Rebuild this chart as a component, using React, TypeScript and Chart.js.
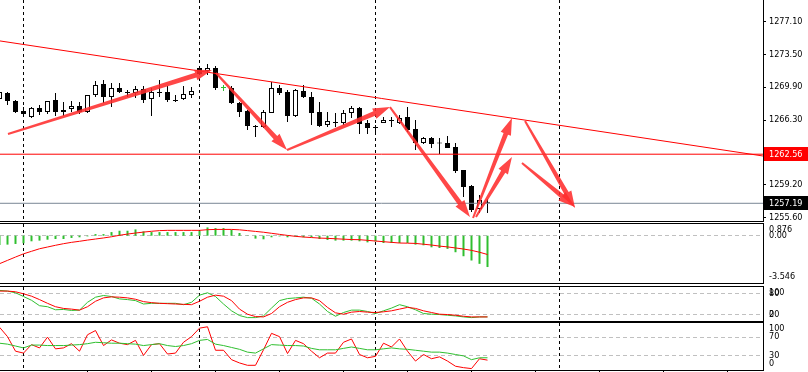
import React, { useEffect, useRef } from "react";
import { Chart, registerables } from "chart.js";

Chart.register(...registerables);

// ---------------- DATA ----------------
const FIRST_BAR = -1;

const opens = [
  1268.6, 1269.26, 1268.38, 1267.29, 1266.63, 1267.62, 1267.18, 1268.49, 1267.4, 1267.51,
  1267.83, 1267.18, 1269.04, 1270.24, 1268.82, 1269.8, 1269.37, 1269.26, 1269.69, 1268.6,
  1269.37, 1269.37, 1268.49, 1268.6, 1269.04, 1271.99, 1271.66, 1271.99, 1269.8, 1269.8,
  1268.16, 1267.29, 1265.65, 1265.54, 1267.07, 1269.8, 1269.37, 1266.74, 1269.47, 1268.82,
  1267.18, 1265.76, 1266.08, 1265.97, 1267.07, 1267.62, 1265.97, 1265.54, 1265.97, 1266.3,
  1265.97, 1266.63, 1265.32, 1263.79, 1264.33, 1263.84, 1263.79, 1263.35, 1260.83, 1259.08,
  1256.56, 1257.3,
];
const highs = [
  1269.58, 1269.37, 1268.49, 1267.72, 1267.72, 1267.94, 1268.38, 1269.26, 1268.27, 1268.38,
  1268.27, 1269.04, 1270.57, 1270.68, 1270.35, 1270.35, 1269.58, 1270.02, 1270.02, 1269.8,
  1270.68, 1270.02, 1269.04, 1270.02, 1269.91, 1272.21, 1272.43, 1272.21, 1270.13, 1270.02,
  1268.27, 1267.4, 1265.76, 1267.4, 1270.46, 1270.13, 1269.58, 1269.69, 1270.13, 1269.37,
  1268.27, 1267.18, 1267.07, 1267.4, 1267.83, 1267.72, 1266.3, 1265.76, 1266.63, 1266.63,
  1266.85, 1267.72, 1266.3, 1264.44, 1264.44, 1264.33, 1264.55, 1263.79, 1260.83, 1259.19,
  1258.1, 1257.66,
];
const lows = [
  1268.38, 1267.94, 1267.07, 1266.63, 1266.52, 1266.85, 1266.96, 1266.74, 1266.74, 1267.18,
  1266.96, 1267.07, 1268.82, 1268.16, 1267.72, 1269.26, 1268.82, 1268.71, 1268.16, 1266.74,
  1268.82, 1268.27, 1268.27, 1268.49, 1268.71, 1271.22, 1271.22, 1269.58, 1269.47, 1268.05,
  1266.63, 1265.21, 1264.44, 1265.43, 1267.07, 1269.04, 1266.08, 1266.63, 1268.71, 1265.76,
  1265.54, 1265.54, 1265.54, 1265.76, 1266.52, 1264.77, 1264.77, 1264.99, 1265.97, 1265.54,
  1265.86, 1264.99, 1263.02, 1263.68, 1263.24, 1262.58, 1263.24, 1260.5, 1257.88, 1256.24,
  1256.13, 1256.13,
];
const closes = [
  1269.37, 1268.38, 1267.18, 1266.96, 1267.62, 1267.18, 1268.38, 1267.18, 1267.18, 1267.83,
  1267.18, 1269.04, 1270.13, 1268.82, 1269.8, 1269.37, 1269.26, 1269.69, 1268.49, 1269.37,
  1269.26, 1268.49, 1268.38, 1269.15, 1269.47, 1271.33, 1271.99, 1269.8, 1269.8, 1268.16,
  1267.18, 1265.65, 1265.54, 1267.18, 1269.8, 1269.26, 1266.74, 1269.58, 1268.82, 1267.07,
  1265.65, 1266.19, 1265.97, 1267.07, 1267.62, 1265.86, 1265.43, 1265.43, 1266.3, 1266.19,
  1266.52, 1265.21, 1263.79, 1264.33, 1263.68, 1263.73, 1263.24, 1260.72, 1258.97, 1256.45,
  1257.55, 1257.19,
];

const macdHistogram = [
  -0.7, -0.67, -0.62, -0.57, -0.42, -0.37, -0.3, -0.25, -0.25, -0.17,
  -0.12, -0.05, 0.12, 0.12, 0.27, 0.37, 0.37, 0.47, 0.32, 0.27,
  0.27, 0.27, 0.27, 0.27, 0.27, 0.37, 0.62, 0.57, 0.57, 0.45,
  0.2, 0.02, -0.22, -0.27, -0.12, -0.05, -0.12, -0.07, -0.12, -0.12,
  -0.25, -0.32, -0.37, -0.37, -0.37, -0.42, -0.5, -0.42, -0.55, -0.55,
  -0.55, -0.55, -0.67, -0.72, -0.87, -0.92, -0.99, -1.24, -1.54, -1.86,
  -2.11, -2.35,
];
const macdSignal = [
  -2.1, -1.85, -1.6, -1.36, -1.17, -0.98, -0.85, -0.72, -0.6, -0.5,
  -0.42, -0.33, -0.25, -0.17, -0.08, 0.03, 0.12, 0.2, 0.27, 0.33,
  0.38, 0.4, 0.4, 0.4, 0.4, 0.4, 0.45, 0.47, 0.47, 0.47,
  0.44, 0.38, 0.32, 0.26, 0.18, 0.1, 0.02, -0.05, -0.1, -0.14,
  -0.18, -0.2, -0.23, -0.26, -0.29, -0.3, -0.35, -0.4, -0.45, -0.5,
  -0.55, -0.56, -0.58, -0.64, -0.7, -0.78, -0.84, -0.92, -1.0, -1.1,
  -1.24, -1.41,
];

const stochMain = [
  90, 88, 83, 72, 61, 45, 42, 33, 34, 31,
  32, 55, 70, 75, 72, 65, 63, 60, 50, 52,
  52, 52, 52, 48, 55, 76, 83, 72, 50, 30,
  16, 10, 10, 15, 38, 60, 66, 68, 70, 67,
  50, 28, 14, 25, 32, 32, 28, 22, 30, 38,
  48, 42, 33, 22, 20, 19, 17, 15, 12, 10,
  12, 12,
];
const stochSignal = [
  88, 88, 86, 80, 73, 63, 52, 42, 37, 35,
  32, 42, 58, 68, 71, 70, 68, 64, 57, 54,
  52, 51, 50, 49, 48, 58, 70, 76, 73, 60,
  35, 20, 13, 12, 22, 42, 55, 63, 68, 68,
  60, 40, 24, 20, 26, 28, 26, 25, 27, 30,
  35, 40, 37, 30, 25, 20, 19, 17, 14, 12,
  12, 12,
];

const rsiValues = [
  91, 71, 40, 36, 54, 47, 70, 45, 47, 56,
  40, 75, 84, 52, 64, 57, 54, 63, 31, 54,
  56, 34, 36, 59, 71, 89, 92, 42, 42, 22,
  15, 10, 10, 43, 78, 71, 35, 63, 56, 40,
  26, 36, 36, 59, 66, 33, 26, 29, 57, 49,
  66, 40, 19, 33, 24, 28, 19, 8, 5, 3,
  24, 21,
];
const rsiAverage = [
  57, 55, 51, 47, 53, 53, 52, 52, 52, 53,
  54, 56, 59, 58, 57, 57, 56, 55, 52, 54,
  56, 52, 50, 52, 56, 63, 65, 55, 52, 48,
  44, 38, 36, 45, 54, 53, 52, 52, 51, 46,
  43, 43, 43, 46, 49, 46, 43, 43, 45, 47,
  45, 44, 42, 40, 38, 38, 36, 33, 30, 22,
  26, 26,
];

const priceTicks = [1277.1, 1273.5, 1269.9, 1266.3, 1259.2, 1255.6];
const horizontalLevel = 1262.56;
const bidPrice = 1257.19;
const trendBars = [-1, 95];
const trendPrices = [1274.96, 1262.29];

const arrowStartBars = [0.06, 26.06, 34.94, 47.81, 58.19, 58.56, 64.69, 64.31];
const arrowStartPrices = [1264.77, 1271.44, 1263.02, 1267.72, 1255.58, 1255.69, 1266.19, 1261.6];
const arrowEndBars = [25.56, 34.94, 47.81, 57.81, 63.06, 63.06, 70.94, 70.94];
const arrowEndPrices = [1271.77, 1263.02, 1267.72, 1255.69, 1266.52, 1262.25, 1256.67, 1256.78];

const separatorBars = [2, 24, 46, 69];
const timeTickBars = [10, 18, 26, 34, 42, 50, 58, 66, 74, 82, 90];

const macdLabelValues = [0.876, 0, -3.546];
const macdLabelTexts = ["0.876", "0.00", "-3.546"];
const stochLevels = [80, 20];
const stochLabelValues = [100, 80, 20, 0];
const rsiLevels = [70, 30];
const rsiLabelValues = [100, 70, 30, 0];

// ---------------- LAYOUT / STYLE ----------------
const W = 808;
const H = 372;
const AXIS_W = 45;
const X_MIN = -0.9375;
const X_MAX = 94.4375;
const FONT_FAMILY = "'DejaVu Sans Condensed', 'DejaVu Sans', sans-serif";
const FONT_SIZE = 9;
const GREEN = "#2fbf2f";
const RED = "#ff0000";
const ARROW = "rgba(255,45,45,0.88)";

const barIndex = opens.map((_, i) => FIRST_BAR + i);
const series = (vals: number[]) => vals.map((v, i) => ({ x: barIndex[i], y: v }));

type PanelOpts = {
  top: number;
  bottom: number;
  levels?: number[];
  labels?: { value: number; text: string }[];
  timeTicks?: boolean;
  drawTop?: boolean;
};

function decorPlugin(p: PanelOpts) {
  return {
    id: "decor",
    beforeDatasetsDraw(chart: any) {
      const { ctx, chartArea: a, scales } = chart;
      const x = scales.x;
      const y = scales.y;
      ctx.save();
      ctx.lineWidth = 1;
      ctx.strokeStyle = "#c0c0c0";
      ctx.setLineDash([4, 3]);
      for (const lv of p.levels || []) {
        const py = Math.floor(y.getPixelForValue(lv)) + 0.5;
        ctx.beginPath();
        ctx.moveTo(a.left, py);
        ctx.lineTo(a.right, py);
        ctx.stroke();
      }
      ctx.strokeStyle = "#000";
      ctx.setLineDash([3, 3]);
      for (const s of separatorBars) {
        const px = Math.floor(x.getPixelForValue(s)) + 0.5;
        ctx.beginPath();
        ctx.moveTo(px, a.top);
        ctx.lineTo(px, a.bottom);
        ctx.stroke();
      }
      ctx.restore();
    },
    afterDraw(chart: any) {
      const { ctx, chartArea: a, scales } = chart;
      const x = scales.x;
      const y = scales.y;
      ctx.save();
      ctx.strokeStyle = "#000";
      ctx.lineWidth = 1;
      ctx.setLineDash([]);
      ctx.beginPath();
      if (p.drawTop !== false) {
        ctx.moveTo(0, a.top - 0.5);
        ctx.lineTo(a.right + 1, a.top - 0.5);
      }
      ctx.moveTo(0, a.bottom + 0.5);
      ctx.lineTo(a.right + 1, a.bottom + 0.5);
      ctx.moveTo(a.right + 0.5, a.top - 1);
      ctx.lineTo(a.right + 0.5, a.bottom + 1);
      ctx.stroke();
      if (p.timeTicks) {
        ctx.beginPath();
        for (const t of timeTickBars) {
          const px = Math.floor(x.getPixelForValue(t)) + 0.5;
          ctx.moveTo(px, a.bottom + 1);
          ctx.lineTo(px, a.bottom + 4);
        }
        ctx.stroke();
      }
      if (p.labels) {
        ctx.fillStyle = "#000";
        ctx.font = `${FONT_SIZE}px ${FONT_FAMILY}`;
        ctx.textBaseline = "middle";
        ctx.textAlign = "left";
        for (const l of p.labels) {
          let py = y.getPixelForValue(l.value);
          py = Math.max(a.top + 6, Math.min(a.bottom - 6, py));
          ctx.fillText(l.text, a.right + 6, py);
        }
      }
      ctx.restore();
    },
  };
}

const mainOverlay = {
  id: "mainOverlay",
  afterDatasetsDraw(chart: any) {
    const { ctx, scales } = chart;
    const x = scales.x;
    const y = scales.y;
    ctx.save();
    ctx.fillStyle = ARROW;
    for (let i = 0; i < arrowStartBars.length; i++) {
      const x1 = x.getPixelForValue(arrowStartBars[i]);
      const y1 = y.getPixelForValue(arrowStartPrices[i]);
      const x2 = x.getPixelForValue(arrowEndBars[i]);
      const y2 = y.getPixelForValue(arrowEndPrices[i]);
      const dx = x2 - x1;
      const dy = y2 - y1;
      const len = Math.hypot(dx, dy);
      const ux = dx / len;
      const uy = dy / len;
      const nx = -uy;
      const ny = ux;
      const headLen = 17;
      const headW = 5.5;
      const w0 = 1;
      const w1 = 2.4;
      const bx = x2 - ux * headLen;
      const by = y2 - uy * headLen;
      ctx.beginPath();
      ctx.moveTo(x1 + nx * w0, y1 + ny * w0);
      ctx.lineTo(bx + nx * w1, by + ny * w1);
      ctx.lineTo(bx + nx * headW, by + ny * headW);
      ctx.lineTo(x2, y2);
      ctx.lineTo(bx - nx * headW, by - ny * headW);
      ctx.lineTo(bx - nx * w1, by - ny * w1);
      ctx.lineTo(x1 - nx * w0, y1 - ny * w0);
      ctx.closePath();
      ctx.fill();
    }
    ctx.restore();
  },
  afterDraw(chart: any) {
    const { ctx, scales, chartArea: a } = chart;
    const y = scales.y;
    ctx.save();
    ctx.font = `${FONT_SIZE}px ${FONT_FAMILY}`;
    ctx.textBaseline = "middle";
    ctx.textAlign = "left";
    const boxes = [
      { v: horizontalLevel, bg: RED },
      { v: bidPrice, bg: "#000" },
    ];
    for (const b of boxes) {
      const py = y.getPixelForValue(b.v);
      ctx.fillStyle = b.bg;
      ctx.fillRect(a.right + 1, Math.round(py) - 7, W - a.right - 1, 14);
      ctx.fillStyle = "#fff";
      ctx.fillText(b.v.toFixed(2), a.right + 6, py);
    }
    ctx.restore();
  },
};

function yAxis(min: number, max: number, withTicks: boolean, tickValues?: number[]) {
  return {
    position: "right",
    min,
    max,
    bounds: "data",
    afterBuildTicks: (s: any) => {
      if (tickValues) s.ticks = tickValues.map((v) => ({ value: v }));
    },
    afterFit: (s: any) => {
      s.width = AXIS_W;
      s.paddingTop = 0;
      s.paddingBottom = 0;
    },
    ticks: {
      display: withTicks,
      color: "#000",
      padding: 3,
      font: { family: FONT_FAMILY, size: FONT_SIZE },
      callback: (v: any) => Number(v).toFixed(2),
    },
    grid: {
      drawOnChartArea: false,
      drawTicks: withTicks,
      tickLength: 3,
      color: "#000",
    },
    border: { display: true, color: "#000" },
  };
}

const xAxis = { type: "linear", min: X_MIN, max: X_MAX, display: false, offset: false };

function baseOptions(top: number, bottom: number, y: any) {
  return {
    responsive: false,
    maintainAspectRatio: false,
    animation: false,
    devicePixelRatio: 1,
    events: [],
    layout: { padding: { top, bottom: H - bottom, left: 0, right: 0 } },
    plugins: { legend: { display: false }, tooltip: { enabled: false } },
    scales: { x: xAxis, y },
  };
}

function lineDs(data: any[], color: string) {
  return {
    type: "line",
    data,
    borderColor: color,
    borderWidth: 1,
    pointRadius: 0,
    tension: 0,
    fill: false,
  };
}

export default function App() {
  const c1 = useRef<HTMLCanvasElement>(null);
  const c2 = useRef<HTMLCanvasElement>(null);
  const c3 = useRef<HTMLCanvasElement>(null);
  const c4 = useRef<HTMLCanvasElement>(null);

  useEffect(() => {
    const charts: Chart[] = [];
    const candleColor = (i: number) =>
      closes[i] > opens[i] ? "#fff" : closes[i] < opens[i] ? "#000" : GREEN;
    const edgeColor = (i: number) => (closes[i] === opens[i] ? GREEN : "#000");

    // Main price panel
    charts.push(
      new Chart(c1.current as HTMLCanvasElement, {
        type: "bar",
        data: {
          datasets: [
            {
              type: "bar",
              data: barIndex.map((b, i) => ({ x: b, y: [lows[i], highs[i]] })),
              backgroundColor: barIndex.map((_, i) => edgeColor(i)),
              borderWidth: 0,
              barThickness: 1,
              grouped: false,
              inflateAmount: 0,
              order: 5,
            },
            {
              type: "bar",
              data: barIndex.map((b, i) => ({ x: b, y: [opens[i], closes[i]] })),
              backgroundColor: barIndex.map((_, i) => candleColor(i)),
              borderColor: barIndex.map((_, i) => edgeColor(i)),
              borderWidth: 1,
              borderSkipped: false,
              barThickness: 5,
              minBarLength: 1,
              grouped: false,
              inflateAmount: 0,
              order: 4,
            },
            {
              ...lineDs(
                [
                  { x: X_MIN, y: bidPrice },
                  { x: X_MAX, y: bidPrice },
                ],
                "#7a8795"
              ),
              order: 3,
            },
            {
              ...lineDs(
                [
                  { x: X_MIN, y: horizontalLevel },
                  { x: X_MAX, y: horizontalLevel },
                ],
                RED
              ),
              order: 2,
            },
            {
              ...lineDs(
                trendBars.map((b, i) => ({ x: b, y: trendPrices[i] })),
                RED
              ),
              order: 1,
            },
          ],
        } as any,
        options: baseOptions(0, 221, yAxis(1255.252, 1279.431, true, priceTicks)) as any,
        plugins: [decorPlugin({ top: 0, bottom: 221, drawTop: false }), mainOverlay],
      })
    );

    // MACD panel
    charts.push(
      new Chart(c2.current as HTMLCanvasElement, {
        type: "bar",
        data: {
          datasets: [
            {
              ...lineDs(series(macdSignal), RED),
              order: 1,
            },
            {
              type: "bar",
              data: series(macdHistogram),
              backgroundColor: GREEN,
              borderWidth: 0,
              barThickness: 2,
              grouped: false,
              inflateAmount: 0,
              order: 2,
            },
          ],
        } as any,
        options: baseOptions(224, 283, yAxis(-3.546, 0.876, false)) as any,
        plugins: [
          decorPlugin({
            top: 224,
            bottom: 283,
            levels: [0],
            labels: macdLabelValues.map((v, i) => ({ value: v, text: macdLabelTexts[i] })),
          }),
        ],
      })
    );

    // Stochastic panel
    charts.push(
      new Chart(c3.current as HTMLCanvasElement, {
        type: "line",
        data: {
          datasets: [lineDs(series(stochSignal), RED), lineDs(series(stochMain), GREEN)],
        } as any,
        options: baseOptions(287, 321, yAxis(0, 100, false)) as any,
        plugins: [
          decorPlugin({
            top: 287,
            bottom: 321,
            levels: stochLevels,
            labels: stochLabelValues.map((v) => ({ value: v, text: String(v) })),
          }),
        ],
      })
    );

    // RSI panel
    charts.push(
      new Chart(c4.current as HTMLCanvasElement, {
        type: "line",
        data: {
          datasets: [lineDs(series(rsiAverage), GREEN), lineDs(series(rsiValues), RED)],
        } as any,
        options: baseOptions(323, 370, yAxis(0, 100, false)) as any,
        plugins: [
          decorPlugin({
            top: 323,
            bottom: 370,
            levels: rsiLevels,
            timeTicks: true,
            labels: rsiLabelValues.map((v) => ({ value: v, text: String(v) })),
          }),
        ],
      })
    );

    return () => charts.forEach((c) => c.destroy());
  }, []);

  const cs: React.CSSProperties = { position: "absolute", left: 0, top: 0, width: W, height: H };
  return (
    <div
      style={{
        position: "fixed",
        left: 0,
        top: 0,
        width: W,
        height: H,
        background: "#fff",
        overflow: "hidden",
      }}
    >
      <canvas ref={c1} width={W} height={H} style={cs} />
      <canvas ref={c2} width={W} height={H} style={cs} />
      <canvas ref={c3} width={W} height={H} style={cs} />
      <canvas ref={c4} width={W} height={H} style={cs} />
    </div>
  );
}
